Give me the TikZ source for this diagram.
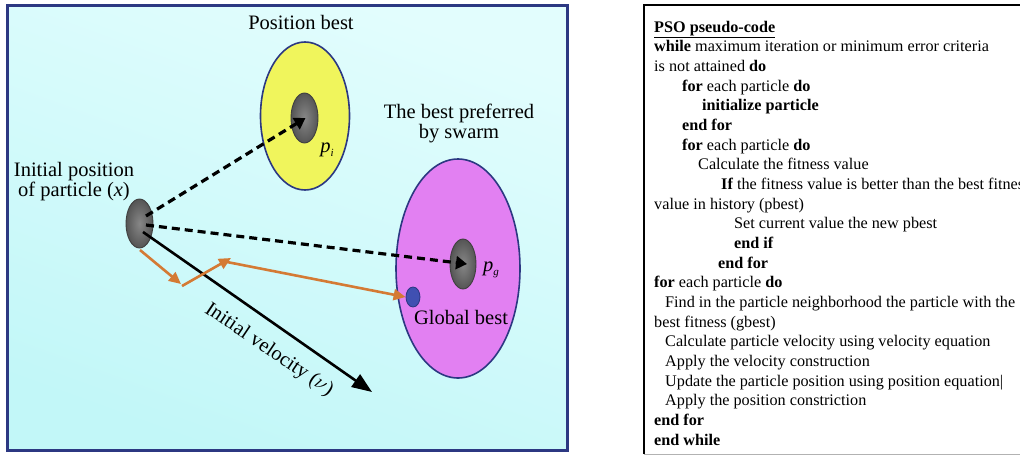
\documentclass[tikz,border=0pt]{standalone}
\usepackage{fontspec}
\setmainfont{Liberation Serif}
\usetikzlibrary{arrows.meta,shapes.geometric}
\definecolor{navy}{RGB}{44,56,130}
\definecolor{bgtop}{RGB}{226,253,253}
\definecolor{bgbot}{RGB}{194,247,248}
\definecolor{yel}{RGB}{240,245,92}
\definecolor{mag}{RGB}{226,128,242}
\definecolor{pgray}{RGB}{112,112,112}
\definecolor{orng}{RGB}{212,122,52}
\definecolor{gbblue}{RGB}{64,80,178}
\begin{document}
\begin{tikzpicture}[x=1pt,y=-1pt,
  zone/.style={ellipse, draw=navy, line width=1.6pt, inner sep=0pt},
  particle/.style={ellipse, draw=black!75, line width=0.9pt, inner color={rgb,255:red,135;green,135;blue,135}, outer color={rgb,255:red,85;green,85;blue,85}, inner sep=0pt, minimum width=27pt, minimum height=49pt},
  lbl/.style={font=\fontsize{20.5}{18}\selectfont, inner sep=0pt, align=center},
  dashedarrow/.style={line width=3.2pt, dash pattern=on 8pt off 5pt, -{Triangle[length=11pt,width=13pt]}},
  orangearrow/.style={draw=orng, line width=2.6pt, -{Triangle[length=12pt,width=11pt]}},
  code/.style={anchor=base west, inner sep=0pt, font=\fontsize{16.2}{19}\selectfont}
]
\useasboundingbox (0,0) rectangle (1020,456);
\fill[white] (0,0) rectangle (1020,456);

% ---------- left panel ----------
\draw[navy, line width=3pt, top color=bgtop, bottom color=bgbot, shading angle=-20] (7,5) rectangle (567,450);

\node[zone, fill=yel, minimum width=89pt, minimum height=148pt] (pzone) at (305,116) {};
\node[zone, fill=mag, minimum width=124pt, minimum height=219pt] (gzone) at (458,268.5) {};

\node[particle, minimum height=50pt] (pi) at (304.5,118) {};
\node[particle, minimum width=26pt, minimum height=50pt] (pg) at (463,264) {};
\node[particle] (x0) at (139.5,223.5) {};
\node[ellipse, draw=navy, line width=0.8pt, fill=gbblue, inner sep=0pt, minimum width=14pt, minimum height=20pt] (gb) at (413,297) {};

% connectors
\coordinate (s1) at (146,216);
\coordinate (s2) at (146,225);
\coordinate (s3) at (143,232);
\coordinate (vend) at (372,392);
\coordinate (o0) at (140,250);
\coordinate (o1) at (181,284);
\coordinate (o1b) at (182,286);
\coordinate (o2) at (231,258);
\coordinate (o2b) at (227,262);

\draw[dashedarrow] (s1) -- ([xshift=1pt]pi.center);
\draw[dashedarrow] (s2) -- ([xshift=4pt]pg.center);
\draw[line width=2.6pt, -{Triangle[length=20pt,width=15pt]}] (s3) -- (vend);
\draw[orangearrow] (o0) -- (o1);
\draw[orangearrow] (o1b) -- (o2);
\draw[orangearrow] (o2b) -- (gb.west);

% labels
\node[lbl, anchor=base] (tpos) at (301,29.5) {Position best};
\node[lbl] (tswarm) at (459,123.5) {The best preferred\\by swarm};
\node[lbl, font=\fontsize{20.5}{20}\selectfont] (tinit) at (74,182) {Initial position\\of particle (\textit{x})};
\node[lbl, anchor=base] (tglob) at (461,324.5) {Global best};
\node[lbl] (tpi) at (327,150) {\textit{p}\raisebox{-0.45ex}{\fontsize{11}{11}\selectfont\textit{i}}};
\node[lbl] (tpg) at (491,270) {\textit{p}\raisebox{-0.45ex}{\fontsize{11}{11}\selectfont\textit{g}}};
\node[lbl, rotate=-34] (tvel) at (269,350) {Initial velocity ($\nu$)};

% ---------- right panel ----------
\draw[black, line width=1.5pt] (1030,5) -- (644,5) -- (644,454);
\draw[black!30, line width=1pt] (644,454.5) -- (1030,454.5);

\node[code] (c0) at (654,32) {\textbf{\underline{PSO pseudo-code}}};
\node[code] (c1) at (654,51.67) {\textbf{while} maximum iteration or minimum error criteria};
\node[code] (c2) at (654,71.33) {is not attained \textbf{do}};
\node[code] (c3) at (682,91) {\textbf{for} each particle \textbf{do}};
\node[code] (c4) at (702,110.67) {\textbf{initialize particle}};
\node[code] (c5) at (682,130.33) {\textbf{end for}};
\node[code] (c6) at (682,150) {\textbf{for} each particle \textbf{do}};
\node[code] (c7) at (698,169.67) {Calculate the fitness value};
\node[code] (c8) at (721,189.33) {\textbf{If} the fitness value is better than the best fitness};
\node[code] (c9) at (654,209) {value in history (pbest)};
\node[code] (c10) at (734,228.67) {Set current value the new pbest};
\node[code] (c11) at (734,248.33) {\textbf{end if}};
\node[code] (c12) at (718,268) {\textbf{end for}};
\node[code] (c13) at (654,287.67) {\textbf{for} each particle \textbf{do}};
\node[code] (c14) at (665,307.33) {Find in the particle neighborhood the particle with the};
\node[code] (c15) at (654,327) {best fitness (gbest)};
\node[code] (c16) at (665,346.67) {Calculate particle velocity using velocity equation};
\node[code] (c17) at (665,366.33) {Apply the velocity construction};
\node[code] (c18) at (665,386) {Update the particle position using position equation|};
\node[code] (c19) at (665,405.67) {Apply the position constriction};
\node[code] (c20) at (654,425.33) {\textbf{end for}};
\node[code] (c21) at (654,445) {\textbf{end while}};
\end{tikzpicture}
\end{document}
